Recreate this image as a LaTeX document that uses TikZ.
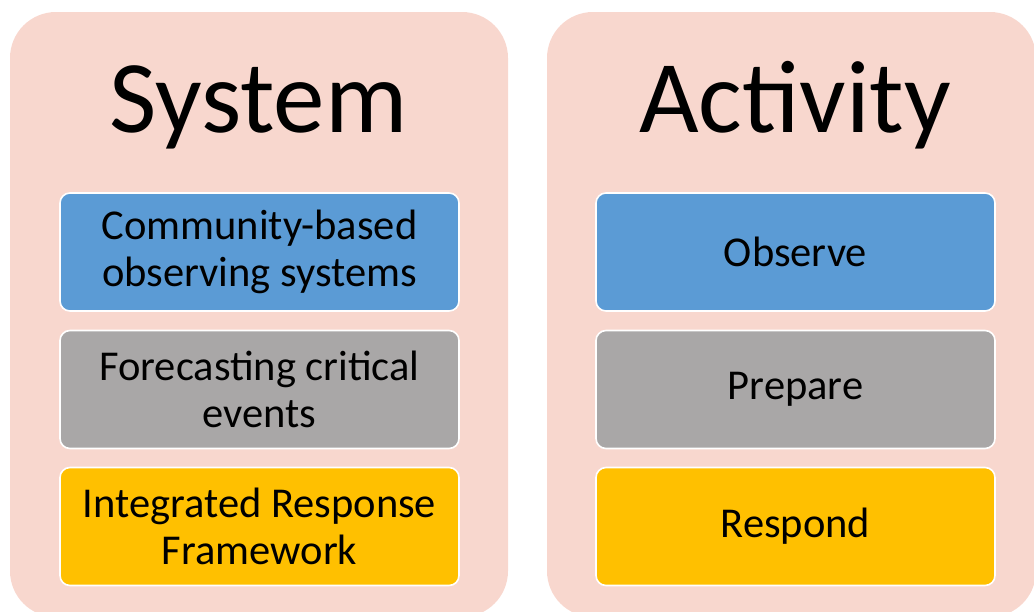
\documentclass[tikz,border=0pt]{standalone}
\usepackage{fontspec}
\setmainfont{Carlito}
\definecolor{panelpink}{HTML}{F8D7CE}
\definecolor{boxblue}{HTML}{5B9BD5}
\definecolor{boxgray}{HTML}{A9A7A7}
\definecolor{boxgold}{HTML}{FFC000}
\begin{document}
\begin{tikzpicture}[x=1pt,y=-1pt,
  panel/.style={fill=panelpink, rounded corners=46pt},
  itembox/.style={draw=white, line width=1.6pt, rounded corners=10pt,
    minimum width=399pt, minimum height=118pt, inner sep=0pt,
    align=center, font=\fontsize{42.5}{47}\selectfont, text=black},
  title/.style={font=\fontsize{103}{110}\selectfont, anchor=base, inner sep=0pt}]
\useasboundingbox (0,0) rectangle (1034,611);
\begin{scope}
\clip (0,0) rectangle (1034,611);
\fill[panel] (10,12) rectangle (508,617);
\fill[panel] (547,12) rectangle (1036,617);
\end{scope}
\node[title] (t1) at (258.5,132) {System};
\node[title] (t2) at (795,132) {Activity};
\node[itembox, fill=boxblue] (l1) at (259.5,252) {Community-based\\observing systems};
\node[itembox, fill=boxgray] (l2) at (259.5,389.5) {Forecasting critical\\events};
\node[itembox, fill=boxgold] (l3) at (259.5,526.5) {Integrated Response\\Framework};
\node[itembox, fill=boxblue] (r1) at (795.5,252) {Observe};
\node[itembox, fill=boxgray] (r2) at (795.5,389.5) {Prepare};
\node[itembox, fill=boxgold] (r3) at (795.5,526.5) {Respond};
\end{tikzpicture}
\end{document}
